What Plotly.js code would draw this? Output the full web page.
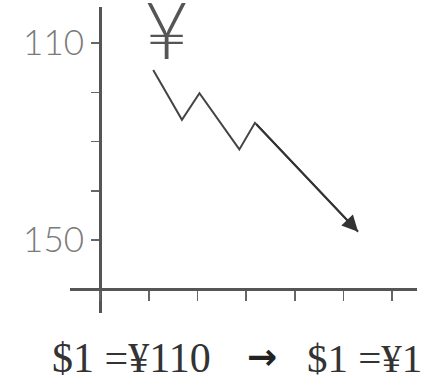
<!DOCTYPE html>
<html>
<head>
<meta charset="utf-8">
<script src="https://cdn.plot.ly/plotly-3.0.1.min.js"></script>
<style>html,body{margin:0;padding:0;background:#fff;}#chart{width:436px;height:381px;}</style>
</head>
<body>
<div id="chart"></div>
<script>
// Data
const periods = [1.09, 1.68, 2.04, 2.86, 3.18, 5.30];
const yenPerDollar = [115.5, 125.6, 120.2, 131.6, 126.2, 148.3];
const xTicks = [0, 1, 2, 3, 4, 5, 6];
const yTickVals = [110, 120, 130, 140, 150];
const yTickText = ['110', '', '', '', '150'];
const currencySymbol = '¥';
const captionLeft = '$1 =¥110';
const captionArrow = '→';
const captionRight = '$1 =¥1';

const n = periods.length;
const W = 436, H = 381;
const margin = {l: 70, r: 19, t: 7, b: 68};
const pw = W - margin.l - margin.r, ph = H - margin.t - margin.b;
const px = v => (v - margin.l) / pw;
const py = v => (H - margin.b - v) / ph;

const trace = {
  x: periods, y: yenPerDollar, type: 'scatter', mode: 'lines',
  line: {color: '#444', width: 2}, hoverinfo: 'skip'
};

const layout = {
  width: W, height: H, margin: margin,
  paper_bgcolor: '#fff', plot_bgcolor: '#fff', showlegend: false,
  xaxis: {
    range: [-0.62, 6.51], anchor: 'free', position: py(289),
    showline: true, linecolor: '#555', linewidth: 3,
    ticks: 'outside', tickvals: xTicks, ticklen: 10, tickwidth: 1.5, tickcolor: '#666',
    showticklabels: false, showgrid: false, zeroline: false
  },
  yaxis: {
    range: [164.8, 102.7], anchor: 'free', position: px(100),
    showline: true, linecolor: '#555', linewidth: 2.5,
    ticks: 'outside', tickvals: yTickVals, ticktext: yTickText, ticklen: 8, tickwidth: 1.5, tickcolor: '#666',
    tickfont: {family: 'Lato', weight: 300, size: 35, color: '#7a7a7a'},
    showgrid: false, zeroline: false
  },
  annotations: [
    {x: periods[n-1], y: yenPerDollar[n-1], xref: 'x', yref: 'y',
     ax: periods[n-2], ay: yenPerDollar[n-2], axref: 'x', ayref: 'y',
     text: '', showarrow: true, arrowhead: 2, arrowsize: 1.6, arrowwidth: 2, arrowcolor: '#333'},
    {x: px(166), y: py(29), xref: 'paper', yref: 'paper', xanchor: 'center', yanchor: 'middle',
     text: currencySymbol, showarrow: false,
     font: {family: 'Lato', weight: 300, size: 78, color: '#555'}},
    {x: px(50), y: py(358), xref: 'paper', yref: 'paper', xanchor: 'left', yanchor: 'middle',
     text: captionLeft, showarrow: false,
     font: {family: 'Liberation Serif', size: 42, color: '#333'}},
    {x: px(262), y: py(356), xref: 'paper', yref: 'paper', xanchor: 'center', yanchor: 'middle',
     text: '<b>' + captionArrow + '</b>', showarrow: false,
     font: {family: 'DejaVu Sans', size: 36, color: '#222'}},
    {x: px(305), y: py(358), xref: 'paper', yref: 'paper', xanchor: 'left', yanchor: 'middle',
     text: captionRight, showarrow: false,
     font: {family: 'Liberation Serif', size: 41, color: '#333'}}
  ]
};

Plotly.newPlot('chart', [trace], layout, {staticPlot: true, displayModeBar: false});
</script>
</body>
</html>
